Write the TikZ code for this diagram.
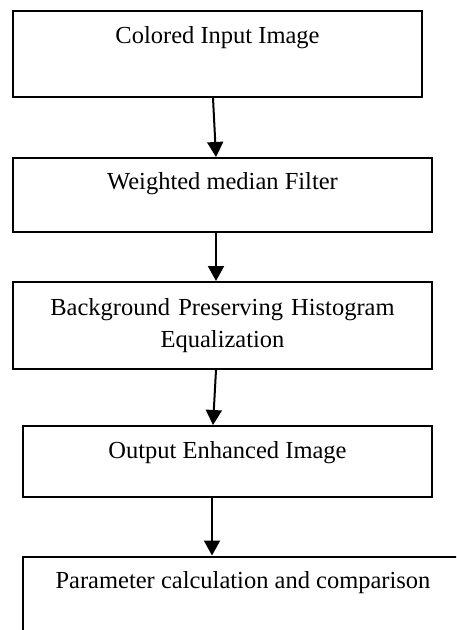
\documentclass[tikz,border=0pt]{standalone}
\usepackage{fontspec}
\setmainfont{Liberation Serif}
\usetikzlibrary{arrows.meta}

\begin{document}
\begin{tikzpicture}[x=0.5pt, y=-0.5pt,
    stage/.style = {draw, line width=1pt, anchor=north, inner ysep=0pt,
      font=\fontsize{12.25}{16}\selectfont},
    flow/.style = {line width=1pt, -{Triangle[width=8pt, length=7.5pt]}}]

    \useasboundingbox (0,0) rectangle (456,630);
    \clip (0,0) rectangle (456,630);

    \node[stage, minimum width=204.5pt, text height=16.5pt, text depth=26.5pt]
      (input) at (217.5,10) {Colored Input Image};
    \node[stage, minimum width=209.5pt, text height=16pt, text depth=21pt]
      (filter) at (222.5,157) {Weighted median Filter};
    \node[stage, minimum width=209.5pt, minimum height=43.5pt, text width=190pt,
      align=center] (bphe) at (222.5,281)
      {Background Preserving Histogram\\ Equalization};
    \node[stage, minimum width=204.5pt, text height=16pt, text depth=19.5pt]
      (output) at (227.5,425) {Output Enhanced Image};
    \node[stage, minimum width=220pt, text height=16pt, text depth=31pt]
      (param) at (243,555.5) {Parameter calculation and comparison};

    \draw[flow] ([xshift=-2.25pt]input.south) -- ([xshift=-3.25pt]filter.north);
    \draw[flow] ([xshift=-3.25pt]filter.south) -- ([xshift=-3.25pt]bphe.north);
    \draw[flow] ([xshift=-3.25pt]bphe.south) -- ([xshift=-7.25pt]output.north);
    \draw[flow] ([xshift=-7.75pt]output.south) -- ([xshift=-15.5pt]param.north);

\end{tikzpicture}
\end{document}
